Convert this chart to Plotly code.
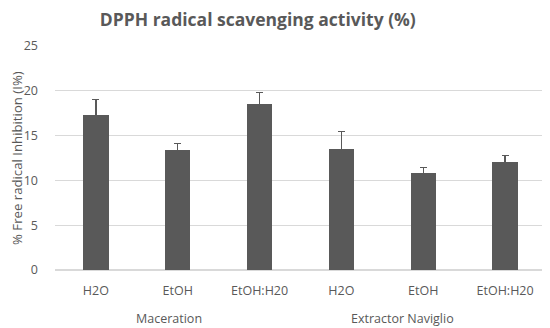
import plotly.graph_objects as go

group_names = ["Maceration", "Extractor Naviglio"]
groups = ["Maceration"] * 3 + ["Extractor Naviglio"] * 3
solvents = ["H2O", "EtOH", "EtOH:H20", "H2O", "EtOH", "EtOH:H20"]
values = [17.25, 13.4, 18.5, 13.5, 10.8, 12.05]
errors = [1.75, 0.75, 1.3, 1.95, 0.6, 0.7]

xpos = list(range(len(solvents)))

fig = go.Figure(go.Bar(
    x=xpos,
    y=values,
    width=0.31,
    marker=dict(color="#595959", line=dict(width=0)),
    error_y=dict(type="data", array=errors, visible=True, color="#595959", thickness=1.2, width=3.5),
))

# group labels centred under each group's categories (Excel-like slight offsets)
label_shift = {"Maceration": -9, "Extractor Naviglio": -21}
for g in group_names:
    idx = [i for i, gg in enumerate(groups) if gg == g]
    fig.add_annotation(x=sum(idx) / len(idx), xref="x", y=0, yref="paper", yanchor="top",
                       yshift=-38, xshift=label_shift[g], text=g, showarrow=False,
                       font=dict(size=12.5, color="#595959"))

# y-axis title
fig.add_annotation(x=0, xref="paper", y=0.5, yref="paper", xanchor="center", yanchor="middle",
                   xshift=-38, textangle=-90, text="% Free radical Inhibition (I%)", showarrow=False,
                   font=dict(size=13.2, color="#595959"))

# page body has an 8px margin, so the figure is sized to fit within the window
fig.update_layout(
    width=542, height=320,
    margin=dict(l=47, r=4, t=38, b=58, autoexpand=False),
    paper_bgcolor="white", plot_bgcolor="white",
    font=dict(family="Open Sans", color="#595959", size=12),
    title=dict(text="<b>DPPH radical scavenging activity (%)</b>", x=0.413, xanchor="center",
               xref="paper", y=0.962, yanchor="middle", font=dict(size=17.5, color="#595959")),
    showlegend=False,
    bargap=0,
)
fig.update_yaxes(range=[0, 25], dtick=5, showgrid=True, gridcolor="#d9d9d9", gridwidth=1,
                 zeroline=True, zerolinecolor="#d9d9d9", showline=False,
                 tickfont=dict(size=12.5, color="#595959"), ticks="", ticklabelstandoff=16,
                 automargin=False)
fig.update_xaxes(range=[-0.5, len(solvents) - 0.5], tickvals=xpos, ticktext=solvents,
                 showline=False, ticks="", showgrid=False, automargin=False, ticklabelstandoff=11,
                 tickfont=dict(size=12.5, color="#595959"))

fig.write_html("out.html")
